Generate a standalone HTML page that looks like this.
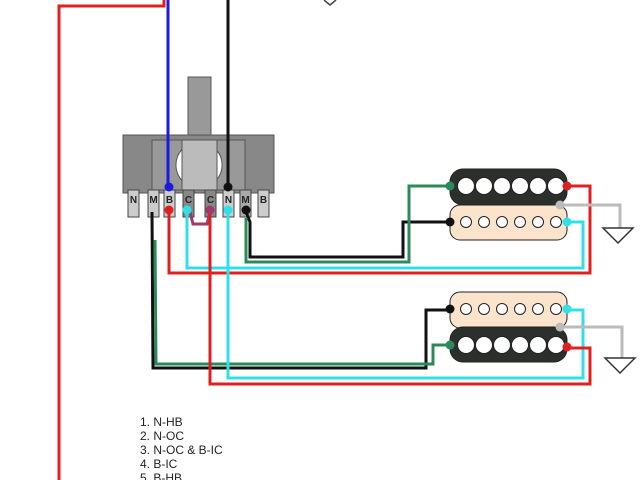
<!DOCTYPE html>
<html><head><style>body{margin:0;background:#fff}svg{display:block}</style></head><body>
<svg width="640" height="480" viewBox="0 0 640 480" xmlns="http://www.w3.org/2000/svg" font-family="Liberation Sans, sans-serif">
<rect width="640" height="480" fill="#fff"/>
<!-- switch -->
<rect x="188" y="77" width="23" height="63" fill="#999" stroke="#555"/>
<rect x="123" y="135" width="151" height="58" fill="#888" stroke="#555"/>
<rect x="152" y="140" width="93" height="50" fill="#999" stroke="#555"/>
<circle cx="199" cy="165" r="23" fill="#fff" stroke="#555"/>
<rect x="182" y="140" width="35" height="50" fill="#bbb" stroke="#555"/>
<g fill="none" stroke-width="3">
<polyline points="164,0 164,6 59,6 59,480" stroke="#e02020"/>
<polyline points="168,0 168,187" stroke="#1a1ae0"/>
<polyline points="228,0 228,187" stroke="#111"/>
<polyline points="324,0 330,5 336,0" stroke="#444" stroke-width="1.5"/>
</g>
<g stroke="#444">
<rect x="128" y="190" width="11" height="27" fill="#ccc"/>
<rect x="148" y="190" width="11" height="27" fill="#ccc"/>
<rect x="164" y="190" width="11" height="27" fill="#ccc"/>
<rect x="183" y="190" width="11" height="27" fill="#888"/>
<rect x="205" y="190" width="11" height="27" fill="#888"/>
<rect x="223" y="190" width="11" height="27" fill="#ccc"/>
<rect x="240" y="190" width="11" height="27" fill="#aaa"/>
<rect x="258" y="190" width="11" height="27" fill="#ccc"/>
</g>
<g font-size="10" font-weight="bold" fill="#222" text-anchor="middle">
<text x="133.5" y="203">N</text><text x="153.5" y="203">M</text><text x="169.5" y="203">B</text>
<text x="188.5" y="203">C</text><text x="210.5" y="203">C</text><text x="228.5" y="203">N</text>
<text x="245.5" y="203">M</text><text x="263.5" y="203">B</text>
</g>
<g fill="none" stroke-width="3">
<polyline points="190,212 193,224 207,224 210,212" stroke="#a03a6a"/>
<polyline points="152,212 153,368 426,368 426,310 450,310" stroke="#111"/>
<polyline points="155,240 156,364 433,364 433,345 450,345" stroke="#2a8a5a"/>
<polyline points="246,212 250,222 250,257 403,257 403,222 450,222" stroke="#111"/>
<polyline points="246,218 246,262 409,262 409,186 450,186" stroke="#2a8a5a"/>
<polyline points="187,212 187,268 583,268 583,222 567,222" stroke="#30e0e8"/>
<polyline points="169,212 169,273 590,273 590,186 567,186" stroke="#e02020"/>
<polyline points="228,212 228,378 583,378 583,310 567,310" stroke="#30e0e8"/>
<polyline points="210,212 210,384 590,384 590,348 567,348" stroke="#e02020"/>
<polyline points="560,205 620,205 620,228" stroke="#bbb"/>
<polyline points="560,327 622,327 622,358" stroke="#bbb"/>
</g>
<polygon points="603,228 633,228 618,243" fill="#fff" stroke="#333" stroke-width="1.5"/>
<polygon points="605,358 635,358 620,373" fill="#fff" stroke="#333" stroke-width="1.5"/>
<!-- pickup 1 -->
<rect x="450" y="205" width="117" height="35" rx="10" fill="#fbe3cc" stroke="#222"/>
<rect x="450" y="169" width="117" height="36" rx="13" fill="#2c302c" stroke="#222"/>
<line x1="460" y1="186" x2="560" y2="186" stroke="#999"/>
<g fill="#fff" stroke="#222">
<circle cx="466" cy="186" r="8.5"/><circle cx="484" cy="186" r="8.5"/><circle cx="502" cy="186" r="8.5"/><circle cx="520" cy="186" r="8.5"/><circle cx="538" cy="186" r="8.5"/><circle cx="556" cy="186" r="8.5"/>
<circle cx="466" cy="222" r="5.5"/><circle cx="484" cy="222" r="5.5"/><circle cx="502" cy="222" r="5.5"/><circle cx="520" cy="222" r="5.5"/><circle cx="538" cy="222" r="5.5"/><circle cx="556" cy="222" r="5.5"/>
</g>
<!-- pickup 2 -->
<rect x="450" y="292" width="117" height="36" rx="10" fill="#fbe3cc" stroke="#222"/>
<rect x="450" y="327" width="117" height="35" rx="13" fill="#2c302c" stroke="#222"/>
<line x1="460" y1="345" x2="560" y2="345" stroke="#999"/>
<g fill="#fff" stroke="#222">
<circle cx="466" cy="345" r="8.5"/><circle cx="484" cy="345" r="8.5"/><circle cx="502" cy="345" r="8.5"/><circle cx="520" cy="345" r="8.5"/><circle cx="538" cy="345" r="8.5"/><circle cx="556" cy="345" r="8.5"/>
<circle cx="466" cy="309" r="5.5"/><circle cx="484" cy="309" r="5.5"/><circle cx="502" cy="309" r="5.5"/><circle cx="520" cy="309" r="5.5"/><circle cx="538" cy="309" r="5.5"/><circle cx="556" cy="309" r="5.5"/>
</g>
<!-- dots -->
<circle cx="169" cy="187" r="4.5" fill="#1a1ae0"/><circle cx="228" cy="187" r="4.5" fill="#111"/>
<circle cx="169" cy="210" r="4.5" fill="#e02020"/><circle cx="187" cy="210" r="4.5" fill="#30e0e8"/>
<circle cx="210" cy="210" r="4.5" fill="#a03a6a"/><circle cx="228" cy="210" r="4.5" fill="#30e0e8"/>
<circle cx="246" cy="210" r="4.5" fill="#111"/>
<circle cx="450" cy="186" r="4.5" fill="#2a8a5a"/><circle cx="567" cy="186" r="4.5" fill="#e02020"/>
<circle cx="450" cy="222" r="4.5" fill="#111"/><circle cx="567" cy="222" r="4.5" fill="#30e0e8"/>
<circle cx="560" cy="205" r="4.5" fill="#bbb"/>
<circle cx="450" cy="309" r="4.5" fill="#111"/><circle cx="567" cy="309" r="4.5" fill="#30e0e8"/>
<circle cx="450" cy="345" r="4.5" fill="#2a8a5a"/><circle cx="567" cy="347" r="4.5" fill="#e02020"/>
<circle cx="560" cy="327" r="4.5" fill="#bbb"/>
<g font-size="12" fill="#222">
<text x="140" y="426">1. N-HB</text>
<text x="140" y="440">2. N-OC</text>
<text x="140" y="454">3. N-OC &amp; B-IC</text>
<text x="140" y="468">4. B-IC</text>
<text x="140" y="482">5. B-HB</text>
</g>
</svg>
</body></html>
